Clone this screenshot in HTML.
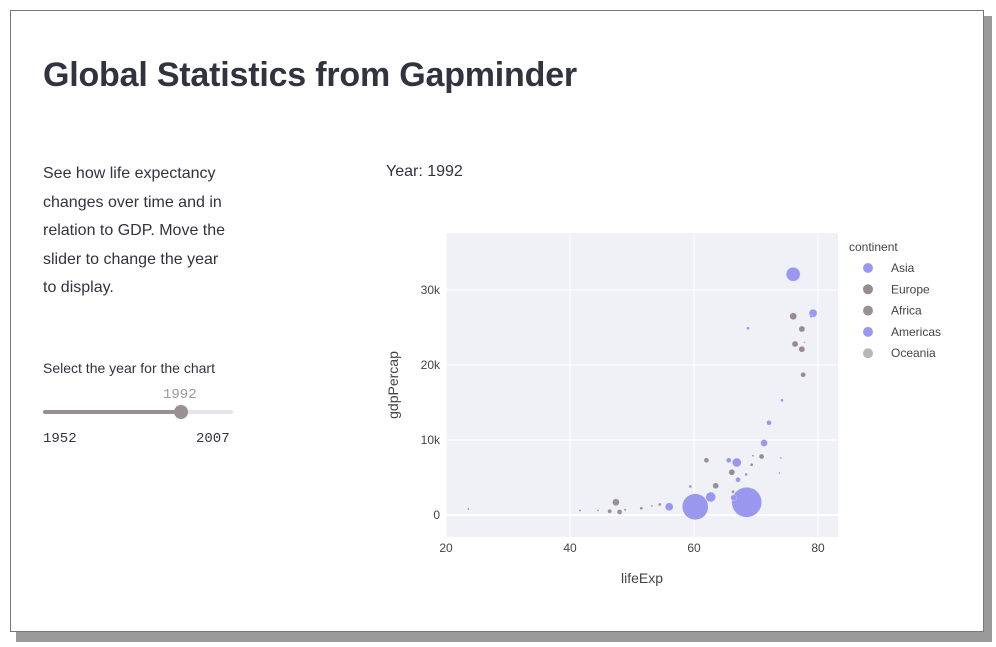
<!DOCTYPE html>
<html><head><meta charset="utf-8"><style>
body{margin:0;width:996px;height:647px;background:#fff;font-family:"Liberation Sans",sans-serif;overflow:hidden;position:relative}
.shadow{position:absolute;left:16px;top:16px;width:976px;height:626px;background:#9a9a9a}
.card{position:absolute;left:10px;top:10px;width:972px;height:620px;background:#fff;border:1px solid #777}
.t{position:absolute;color:#31333f}
</style></head><body>
<div class="shadow"></div>
<div class="card"></div>
<div class="t" style="left:43px;top:56px;font-size:34px;font-weight:bold;letter-spacing:-0.2px">Global Statistics from Gapminder</div>
<div class="t" style="left:43px;top:160px;width:192px;font-size:16px;line-height:28.6px">See how life expectancy changes over time and in relation to GDP. Move the slider to change the year to display.</div>
<div class="t" style="left:43px;top:360px;font-size:14px">Select the year for the chart</div>
<div class="t" style="left:163px;top:387px;font-size:14px;color:#999;font-family:'Liberation Mono',monospace">1992</div>
<div style="position:absolute;left:43px;top:410px;width:190px;height:4px;background:#e6e4ea;border-radius:2px"></div>
<div style="position:absolute;left:43px;top:410px;width:138px;height:4px;background:#9a8f93;border-radius:2px"></div>
<div style="position:absolute;left:174px;top:405px;width:14px;height:14px;background:#9a8f93;border-radius:50%"></div>
<div class="t" style="left:43px;top:431px;font-size:14px;font-family:'Liberation Mono',monospace">1952</div>
<div class="t" style="left:196px;top:431px;font-size:14px;font-family:'Liberation Mono',monospace">2007</div>
<div class="t" style="left:386px;top:163px;font-size:16px">Year: 1992</div>
<svg id="chart" width="996" height="647" style="position:absolute;left:0;top:0"></svg>
<script>
const continents=["Asia","Europe","Africa","Americas","Oceania"];
const lifeExp=[76,79.2,76,77.4,76.3,77.4,77.6,68.7,74.2,72.1,71.3,70.9,62,65.6,66.9,66.1,67.1,68.4,69.3,63.5,62.7,60.2,68.5,66.4,56,47.4,48,46.4,51.5,54.5,59.4,41.6,66.3,74,78.9,48.9,23.6,44.5,53.2,69.5,73.8,77.8];
const gdpPercap=[32100,26900,26500,24800,22800,22100,18700,24900,15300,12300,9600,7800,7300,7300,7000,5700,4700,5400,6700,3900,2400,1100,1700,2300,1100,1700,400,500,900,1400,3800,600,3100,7600,26500,700,800,600,1200,7900,5600,23000];
const pop=[253,83,63,47,47,47,32,12,12,32,63,32,32,32,105,47,32,12,12,47,129,874,1164,47,83,63,32,21,12,12,12,7,12,5,12,7,5,5,5,5,5,5];
const cont=[0,3,1,1,1,1,1,3,3,3,3,1,2,3,3,1,3,3,1,2,0,0,0,3,0,2,2,2,2,2,3,0,2,3,3,2,2,2,2,1,3,4];
const xTicks=[20,40,60,80];
const yTicks=[0,10000,20000,30000];
const yTickLabels=["0","10k","20k","30k"];
const colors=["#9a98ee","#958b90","#9a9194","#9a98ee","#b9b6b8"];
const svg=document.getElementById('chart');const NS="http://www.w3.org/2000/svg";
const X0=446,X1=838,Y0=233,Y1=537;
const xs=v=>446+(v-20)*6.2, ys=v=>515-v*0.0075, rs=p=>Math.max(1,15*Math.sqrt(p/1164));
function mk(t,a,txt){const e=document.createElementNS(NS,t);for(const k in a)e.setAttribute(k,a[k]);if(txt!=null)e.textContent=txt;svg.appendChild(e);return e;}
let bg=mk('rect',{x:X0,y:Y0,width:X1-X0,height:Y1-Y0,fill:'#f0f1f7'});


xTicks.forEach(v=>{let l=mk('line',{x1:xs(v),x2:xs(v),y1:Y0,y2:Y1,stroke:'#fff','stroke-width':1});


let t=mk('text',{x:xs(v),y:552,'text-anchor':'middle','font-size':12,fill:'#444'},String(v));

});
yTicks.forEach((v,i)=>{let l=mk('line',{x1:X0,x2:X1,y1:ys(v),y2:ys(v),stroke:'#fff','stroke-width':v===0?2:1});


let t=mk('text',{x:440,y:ys(v)+4,'text-anchor':'end','font-size':12,fill:'#444'},yTickLabels[i]);

});
let xt=mk('text',{x:642,y:583,'text-anchor':'middle','font-size':14,fill:'#444'},'lifeExp');


let yt=mk('text',{x:398,y:385,'text-anchor':'middle','font-size':14,fill:'#444',transform:'rotate(-90 398 385)'},'gdpPercap');


lifeExp.forEach((v,i)=>{let c=mk('circle',{cx:xs(v),cy:ys(gdpPercap[i]),r:rs(pop[i]),fill:colors[cont[i]],stroke:'#fff','stroke-width':0.4,'stroke-opacity':0.6});

});
let lt=mk('text',{x:849,y:251,'font-size':12,fill:'#444'},'continent');


continents.forEach((n,i)=>{const y=268+i*21.3;
let m=mk('circle',{cx:868,cy:y,r:5,fill:colors[i]});


let t=mk('text',{x:891,y:y+4,'font-size':12,fill:'#444'},n);

});
</script>
</body></html>
